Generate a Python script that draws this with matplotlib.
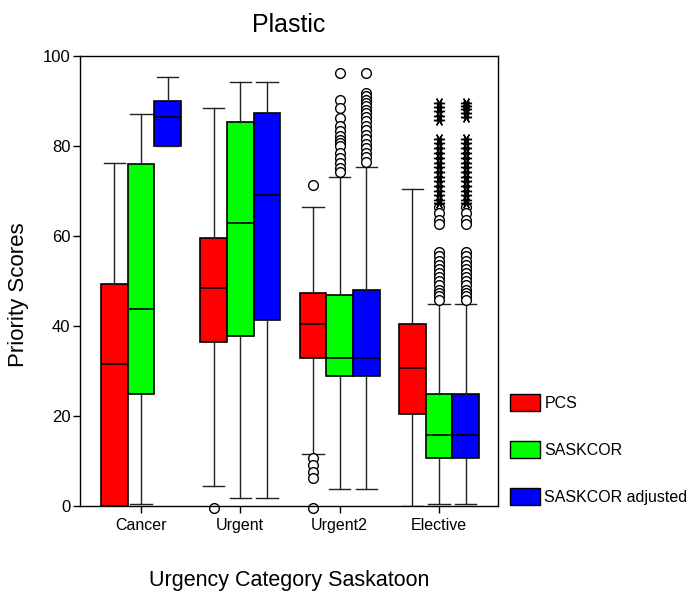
import matplotlib
matplotlib.use("Agg")
import matplotlib.pyplot as plt
from matplotlib.patches import Patch

plt.rcParams['font.family'] = ['Liberation Sans', 'DejaVu Sans']

categories = ['Cancer', 'Urgent', 'Urgent2', 'Elective']
series = ['PCS', 'SASKCOR', 'SASKCOR adjusted']
colors = ['#ff0000', '#00ff00', '#0000ff']

# box stats
pcs_med = [31.4, 48.4, 40.4, 30.5]
pcs_q1 = [0, 36.3, 32.9, 20.4]
pcs_q3 = [49.3, 59.4, 47.3, 40.4]
pcs_lo = [0, 4.4, 11.4, 0]
pcs_hi = [76.2, 88.4, 66.5, 70.4]

sask_med = [43.8, 62.9, 32.9, 15.7]
sask_q1 = [24.8, 37.7, 28.8, 10.6]
sask_q3 = [75.9, 85.3, 46.8, 24.8]
sask_lo = [0.3, 1.6, 3.6, 0.3]
sask_hi = [87.2, 94.2, 73.1, 44.9]

adj_med = [86.4, 69.0, 32.9, 15.7]
adj_q1 = [80.0, 41.3, 28.8, 10.6]
adj_q3 = [90.0, 87.3, 47.9, 24.8]
adj_lo = [80.0, 1.6, 3.6, 0.3]
adj_hi = [95.4, 94.2, 75.2, 44.9]

# outliers (circles)
pcs_out = [[], [-0.5], [71.2, 10.5, 9.0, 7.5, 6.2, -0.5], []]
sask_out = [[], [],
            [96.2, 90.3, 88.5, 86.2, 84.4, 83.3, 82.3, 81.4, 80.6, 79.9, 78.4, 77.3, 76.2, 75.1, 74.3],
            [66.3, 65.0, 63.5, 62.6, 56.5, 55.5, 54.5, 53.6, 52.6, 51.7, 50.8, 50.0, 49.0, 48.0, 47.3, 46.5, 45.7]]
adj_out = [[], [],
           [96.2, 91.8, 91.0, 90.3, 89.5, 88.8, 88.0, 87.3, 86.5, 85.5, 84.5, 83.5, 82.5, 81.5, 80.5, 79.5, 78.5, 77.5, 76.5],
           [66.3, 65.0, 63.5, 62.6, 56.5, 55.5, 54.5, 53.6, 52.6, 51.7, 50.8, 50.0, 49.0, 48.0, 47.3, 46.5, 45.7]]
# extremes (stars)
sask_ext = [[], [], [],
            [89.5, 88.6, 87.7, 86.6, 85.7, 81.6, 80.6, 79.5, 78.5, 77.4, 76.3, 75.2, 74.2, 73.1, 72.1, 71.0, 70.0, 69.0, 68.0, 67.2]]
adj_ext = [[], [], [],
           [89.5, 88.9, 88.2, 87.4, 86.4, 81.6, 80.6, 79.5, 78.5, 77.4, 76.3, 75.2, 74.2, 73.1, 72.1, 71.0, 70.0, 69.0, 68.0, 67.2]]

all_stats = [
    (pcs_med, pcs_q1, pcs_q3, pcs_lo, pcs_hi, pcs_out, [[]] * 4),
    (sask_med, sask_q1, sask_q3, sask_lo, sask_hi, sask_out, sask_ext),
    (adj_med, adj_q1, adj_q3, adj_lo, adj_hi, adj_out, adj_ext),
]

fig = plt.figure(figsize=(6.94, 5.99), dpi=100)
ax = fig.add_axes([80 / 694, 93.5 / 599, 418 / 694, 449.5 / 599])

w = 0.268
for s, (med, q1, q3, lo, hi, out, ext) in enumerate(all_stats):
    stats = []
    for i in range(len(categories)):
        stats.append(dict(med=med[i], q1=q1[i], q3=q3[i], whislo=lo[i], whishi=hi[i], fliers=out[i]))
    pos = [i + (s - 1) * w for i in range(len(categories))]
    bp = ax.bxp(stats, positions=pos, widths=w, capwidths=0.215, patch_artist=True,
                showfliers=True, manage_ticks=False,
                boxprops=dict(facecolor=colors[s], edgecolor='black', linewidth=1.2),
                medianprops=dict(color='black', linewidth=1.2),
                whiskerprops=dict(color='#222222', linewidth=1.0),
                capprops=dict(color='#222222', linewidth=1.0),
                flierprops=dict(marker='o', markerfacecolor='white', markeredgecolor='black',
                                markersize=7, markeredgewidth=1.0))
    for f in bp['fliers']:
        f.set_clip_on(False)
    for i in range(len(categories)):
        if ext[i]:
            ax.plot([pos[i]] * len(ext[i]), ext[i], linestyle='none', marker=(6, 2, 30),
                    markersize=8, markeredgecolor='black', markeredgewidth=1.0, color='black')

ax.set_xlim(-0.614, 3.595)
ax.set_ylim(0, 100)
ax.set_yticks([0, 20, 40, 60, 80, 100])
ax.set_xticks(range(len(categories)))
ax.set_xticklabels(categories, fontsize=11.5)
ax.tick_params(axis='y', labelsize=12, length=5, width=1.0, pad=2)
ax.tick_params(axis='x', length=5, width=1.0, pad=4)
for sp in ax.spines.values():
    sp.set_linewidth(1.0)

ax.set_xlabel('Urgency Category Saskatoon', fontsize=15.5)
ax.xaxis.set_label_coords(0.5, -0.166)
ax.xaxis.label.set_va('center')
ax.set_ylabel('Priority Scores', fontsize=16)
ax.yaxis.set_label_coords(-0.146, 0.468)
ax.yaxis.label.set_va('center')
ax.text(0.5, 1.07, 'Plastic', transform=ax.transAxes, ha='center', va='center', fontsize=18)

handles = [Patch(facecolor=c, edgecolor='black', linewidth=1.0) for c in colors]
fig.legend(handles, series, loc='upper left', bbox_to_anchor=(510 / 694, 1 - 394 / 599),
           frameon=False, fontsize=11.5, handlelength=1.85, handleheight=1.25,
           handletextpad=0.3, labelspacing=1.9, borderpad=0, borderaxespad=0)

fig.savefig('out.png', dpi=100)
